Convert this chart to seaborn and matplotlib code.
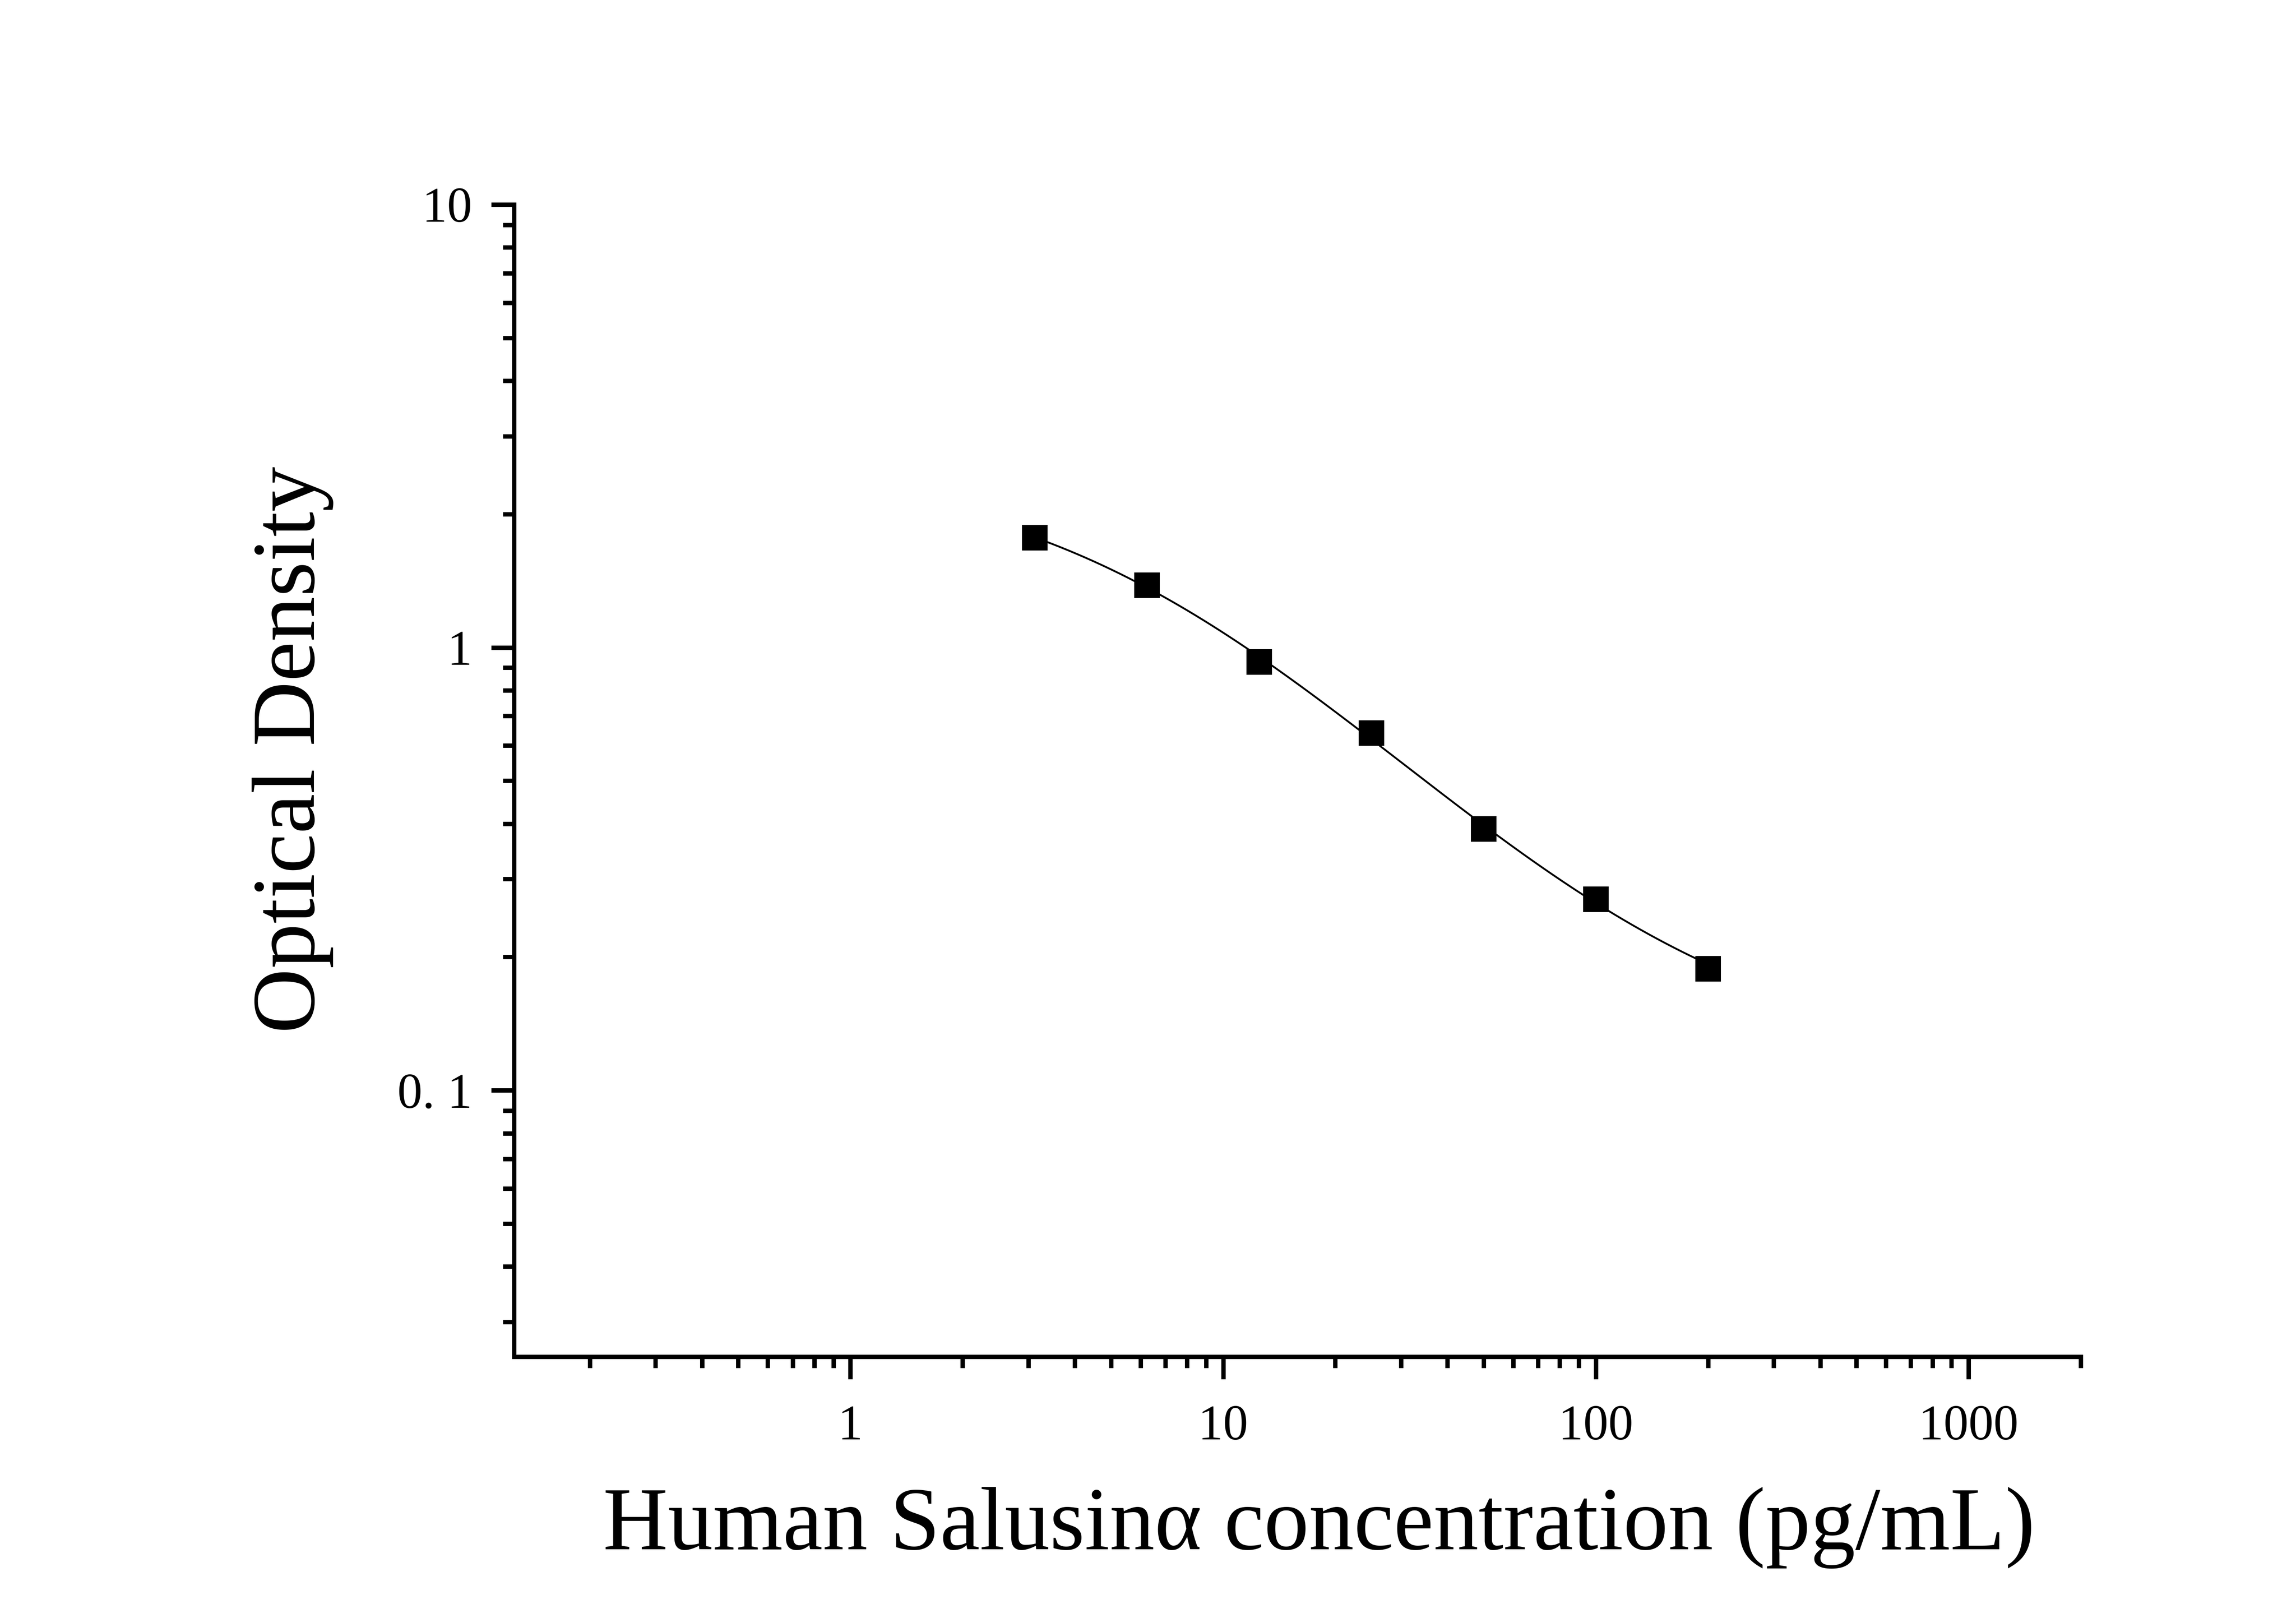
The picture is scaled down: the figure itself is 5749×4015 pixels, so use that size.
import numpy as np
import pandas as pd
import matplotlib
matplotlib.use("Agg")
import matplotlib.pyplot as plt
import seaborn as sns
from matplotlib.ticker import FixedLocator, FixedFormatter, NullFormatter

# ---------------- data ----------------
concentration = [3.125, 6.25, 12.5, 25, 50, 100, 200]
optical_density = [1.767, 1.380, 0.928, 0.641, 0.389, 0.270, 0.188]

x_tick_values = [1, 10, 100, 1000]
x_tick_labels = ["1", "10", "100", "1000"]
x_minor_values = [0.2, 0.3, 0.4, 0.5, 0.6, 0.7, 0.8, 0.9,
                  2, 3, 4, 5, 6, 7, 8, 9,
                  20, 30, 40, 50, 60, 70, 80, 90,
                  200, 300, 400, 500, 600, 700, 800, 900, 2000]
y_tick_values = [0.1, 1, 10]
y_tick_labels = ["0. 1", "1", "10"]
y_minor_values = [0.03, 0.04, 0.05, 0.06, 0.07, 0.08, 0.09,
                  0.2, 0.3, 0.4, 0.5, 0.6, 0.7, 0.8, 0.9,
                  2, 3, 4, 5, 6, 7, 8, 9]
x_limits = (0.125, 2000)
y_limits = (0.025, 10)

x_label = "Human Salusinα concentration (pg/mL)"
y_label = "Optical Density"


# ---------------- 4-parameter logistic fit ----------------
def fit_4pl(x, y):
    x = np.asarray(x, float)
    y = np.asarray(y, float)
    logc = np.linspace(-1, 4, 501)[:, None, None]
    b = np.linspace(0.2, 4.0, 381)[None, :, None]
    g = 1.0 / (1.0 + (x[None, None, :] / 10 ** logc) ** b)
    gm = g.mean(axis=2, keepdims=True)
    ym = y.mean()
    cov = ((g - gm) * (y - ym)).sum(axis=2, keepdims=True)
    var = ((g - gm) ** 2).sum(axis=2, keepdims=True)
    slope = cov / var
    intercept = ym - slope * gm
    pred = intercept + slope * g
    res = ((pred - y) ** 2).sum(axis=2)
    i, j = np.unravel_index(np.argmin(res), res.shape)
    D = intercept[i, j, 0]
    A = D + slope[i, j, 0]
    C = 10 ** logc[i, 0, 0]
    B = b[0, j, 0]
    return A, B, C, D


A, B, C, D = fit_4pl(concentration, optical_density)
curve_x = np.geomspace(min(concentration), max(concentration), 400)
curve_y = D + (A - D) / (1 + (curve_x / C) ** B)

points = pd.DataFrame({"conc": concentration, "od": optical_density})
curve = pd.DataFrame({"conc": curve_x, "od": curve_y})

# ---------------- style ----------------
sns.set_theme(style="ticks")
plt.rcParams["font.family"] = ["Liberation Serif", "DejaVu Serif"]
plt.rcParams["axes.linewidth"] = 1.32
plt.rcParams["axes.edgecolor"] = "black"

dpi = 600
fig = plt.figure(figsize=(5749 / dpi, 4015 / dpi), dpi=dpi)
ax = fig.add_axes([0.22378, 0.15405, 0.90624 - 0.22378, 0.87248 - 0.15405])

sns.lineplot(data=curve, x="conc", y="od", ax=ax, color="black",
             linewidth=0.55, sort=True, legend=False)
sns.scatterplot(data=points, x="conc", y="od", ax=ax, marker="s", s=59,
                color="black", linewidth=0, legend=False, zorder=3)

ax.set_xscale("log")
ax.set_yscale("log")
ax.set_xlim(*x_limits)
ax.set_ylim(*y_limits)

ax.xaxis.set_major_locator(FixedLocator(x_tick_values))
ax.xaxis.set_major_formatter(FixedFormatter(x_tick_labels))
ax.xaxis.set_minor_locator(FixedLocator(x_minor_values))
ax.xaxis.set_minor_formatter(NullFormatter())
ax.yaxis.set_major_locator(FixedLocator(y_tick_values))
ax.yaxis.set_major_formatter(FixedFormatter(y_tick_labels))
ax.yaxis.set_minor_locator(FixedLocator(y_minor_values))
ax.yaxis.set_minor_formatter(NullFormatter())

for side in ["top", "right"]:
    ax.spines[side].set_visible(False)
for side in ["left", "bottom"]:
    ax.spines[side].set_linewidth(1.32)
    ax.spines[side].set_color("black")

ax.tick_params(axis="x", which="major", direction="out", length=6.7, width=1.32,
               pad=7.6, labelsize=15, colors="black")
ax.tick_params(axis="x", which="minor", direction="out", length=3.4, width=1.32,
               colors="black")
ax.tick_params(axis="y", which="major", direction="out", length=6.9, width=1.32,
               pad=5.6, labelsize=15, colors="black")
ax.tick_params(axis="y", which="minor", direction="out", length=3.4, width=1.32,
               colors="black")

ax.set_xlabel(x_label, fontsize=27, va="baseline", ha="center", color="black")
ax.xaxis.set_label_coords(0.514, -0.1669)
ax.set_ylabel(y_label, fontsize=27, rotation=90, rotation_mode="anchor",
              ha="center", va="baseline", color="black")
ax.yaxis.set_label_coords(-0.1275, 0.527)

ax.grid(False)
ax.set_facecolor("white")
fig.patch.set_facecolor("white")

fig.savefig("out.png", dpi=dpi, facecolor="white")
